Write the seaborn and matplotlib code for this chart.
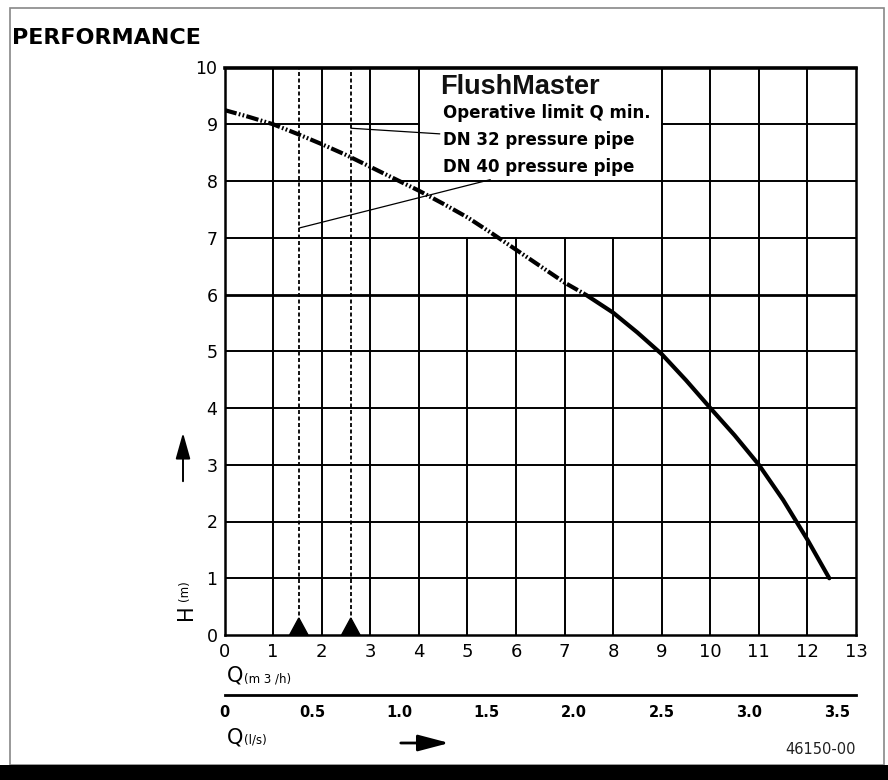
import numpy as np
import pandas as pd
import matplotlib
matplotlib.use("Agg")
import matplotlib.pyplot as plt
import seaborn as sns
from matplotlib.patches import Rectangle, FancyArrowPatch

# ---------------- data ----------------
q_dashed = [0, 0.5, 1, 1.5, 2, 2.5, 3, 3.5, 4, 4.5, 5, 5.5, 6, 6.5, 7, 7.43]
h_dashed = [9.25, 9.13, 9.0, 8.83, 8.65, 8.46, 8.25, 8.04, 7.83, 7.6, 7.36, 7.08, 6.79, 6.5, 6.21, 6.0]
q_solid = [7.43, 8, 8.5, 9, 9.5, 10, 10.5, 11, 11.5, 12, 12.45]
h_solid = [6.0, 5.68, 5.33, 4.95, 4.49, 4.0, 3.52, 3.0, 2.38, 1.68, 1.0]
q_min = [1.53, 2.6]               # operative limits (DN 40, DN 32)
x_ticks = list(range(0, 14))
y_ticks = list(range(0, 11))
ls_ticks = [0, 0.5, 1.0, 1.5, 2.0, 2.5, 3.0, 3.5]
ls_labels = ["0", "0.5", "1.0", "1.5", "2.0", "2.5", "3.0", "3.5"]
M3H_PER_LS = 3.6
legend_lines = ["Operative limit Q min.", "DN 32 pressure pipe", "DN 40 pressure pipe"]

sns.set_theme(style="white")
plt.rcParams['font.family'] = ['DejaVu Sans']
plt.rcParams['text.color'] = 'black'
plt.rcParams['xtick.color'] = 'black'
plt.rcParams['ytick.color'] = 'black'
plt.rcParams['axes.labelcolor'] = 'black'

W, H = 888, 780
fig = plt.figure(figsize=(W / 100, H / 100), dpi=100)

def fx(px):
    return px / W

def fy(py):
    return 1 - py / H

ax = fig.add_axes([fx(224.5), fy(635), fx(856) - fx(224.5), fy(67.5) - fy(635)])
ax.set_xlim(0, 13)
ax.set_ylim(0, 10)

# grid (with the legend box cut-out: Q 4..9, H 7..10)
lw_grid = 1.4
for x in x_ticks[1:-1]:
    if 5 <= x <= 8:
        ax.plot([x, x], [0, 7], color="black", lw=lw_grid, zorder=1)
    else:
        ax.plot([x, x], [0, 10], color="black", lw=lw_grid, zorder=1)
for y in y_ticks[1:-1]:
    lw = 2.0 if y == 6 else lw_grid
    if y == 9:
        ax.plot([0, 4], [y, y], color="black", lw=lw, zorder=1)
        ax.plot([9, 13], [y, y], color="black", lw=lw, zorder=1)
    else:
        ax.plot([0, 13], [y, y], color="black", lw=lw, zorder=1)

for s in ["left", "right", "bottom"]:
    ax.spines[s].set_linewidth(1.8)
    ax.spines[s].set_color("black")
ax.spines["top"].set_linewidth(2.6)
ax.spines["top"].set_color("black")

# operative limit lines
for q in q_min:
    ax.plot([q, q], [0, 10], color="black", lw=1.3, dashes=(2.2, 1.4), zorder=2)
    ax.fill([q - 0.19, q + 0.19, q], [0, 0, 0.3], color="black", zorder=4, clip_on=False)

# performance curve
df_d = pd.DataFrame({"Q": q_dashed, "H": h_dashed})
df_s = pd.DataFrame({"Q": q_solid, "H": h_solid})
sns.lineplot(data=df_d, x="Q", y="H", ax=ax, color="black", lw=3.0, sort=False, zorder=3)
ax.lines[-1].set_dashes((3.0, 0.55, 0.4, 0.55, 0.4, 0.55))
ax.lines[-1].set_dash_capstyle("butt")
ax.lines[-1].set_solid_joinstyle("round")
sns.lineplot(data=df_s, x="Q", y="H", ax=ax, color="black", lw=3.0, sort=False, zorder=3)
ax.lines[-1].set_solid_joinstyle("round")

# ticks
ax.set_xticks(x_ticks)
ax.set_yticks(y_ticks)
ax.tick_params(axis="both", length=0)
ax.tick_params(axis="x", pad=6, labelsize=13)
ax.tick_params(axis="y", pad=5, labelsize=12.5)
ax.set_xlabel("")
ax.set_ylabel("")

# legend / annotation box
ax.text(4.44, 9.65, "FlushMaster", fontsize=19.5, fontweight="bold",
        family=["Liberation Sans", "DejaVu Sans"], ha="left", va="center", color="#111111", zorder=5)
ax.text(4.5, 9.19, legend_lines[0], fontsize=12, fontweight="bold", ha="left", va="center", zorder=5)
ax.annotate(legend_lines[1], xy=(q_min[1], 8.93), xytext=(4.5, 8.72), fontsize=12, fontweight="bold",
            ha="left", va="center", zorder=5,
            arrowprops=dict(arrowstyle="-", lw=0.9, color="black", shrinkA=0, shrinkB=0))
ax.annotate(legend_lines[2], xy=(q_min[0], 7.17), xytext=(4.5, 8.24), fontsize=12, fontweight="bold",
            ha="left", va="center", zorder=5,
            arrowprops=dict(arrowstyle="-", lw=0.9, color="black", shrinkA=0, shrinkB=0))

# second x-axis (l/s)
ax2 = fig.add_axes([fx(224.5), fy(695), fx(856) - fx(224.5), 0.01])
ax2.set_xlim(0, 13 / M3H_PER_LS)
ax2.set_ylim(0, 1)
for s in ["left", "right", "top"]:
    ax2.spines[s].set_visible(False)
ax2.spines["bottom"].set_linewidth(2.0)
ax2.spines["bottom"].set_color("black")
ax2.set_yticks([])
ax2.set_xticks(ls_ticks)
ax2.set_xticklabels(ls_labels, fontsize=10.5, fontweight="bold")
ax2.tick_params(axis="x", direction="in", length=4, width=1.5, color="black", pad=7)
ax2.patch.set_alpha(0)

# axis labels
fig.text(fx(12), fy(38), "PERFORMANCE", fontsize=16, fontweight="bold", ha="left", va="center")
fig.text(fx(186), fy(612), "H", fontsize=15, rotation=90, ha="center", va="center")
fig.text(fx(184), fy(591), "(m)", fontsize=8.5, rotation=90, ha="center", va="center")
fig.text(fx(227), fy(676), "Q", fontsize=15, ha="left", va="center")
fig.text(fx(244), fy(679), "(m 3 /h)", fontsize=8.5, ha="left", va="center")
fig.text(fx(227), fy(737), "Q", fontsize=15, ha="left", va="center")
fig.text(fx(244), fy(740), "(l/s)", fontsize=8.5, ha="left", va="center")
fig.text(fx(856), fy(750), "46150-00", fontsize=10.5, ha="right", va="center", color="#222222")

# arrows
fig.patches.append(FancyArrowPatch(
    (fx(183), fy(484)), (fx(183), fy(430)), transform=fig.transFigure,
    arrowstyle="-|>,head_length=16,head_width=4.5", lw=1.4, color="black", mutation_scale=1))
fig.patches.append(FancyArrowPatch(
    (fx(398), fy(743)), (fx(452), fy(743)), transform=fig.transFigure,
    arrowstyle="-|>,head_length=19,head_width=5", lw=2.0, color="black", mutation_scale=1))

# frame and bottom band
fig.patches.append(Rectangle((fx(10), fy(765)), fx(874), fy(8) - fy(765), transform=fig.transFigure,
                             fill=False, edgecolor="#888888", lw=1.2))
fig.patches.append(Rectangle((0, 0), 1, fy(765), transform=fig.transFigure,
                             facecolor="black", edgecolor="none"))

fig.savefig("out.png", dpi=100)
